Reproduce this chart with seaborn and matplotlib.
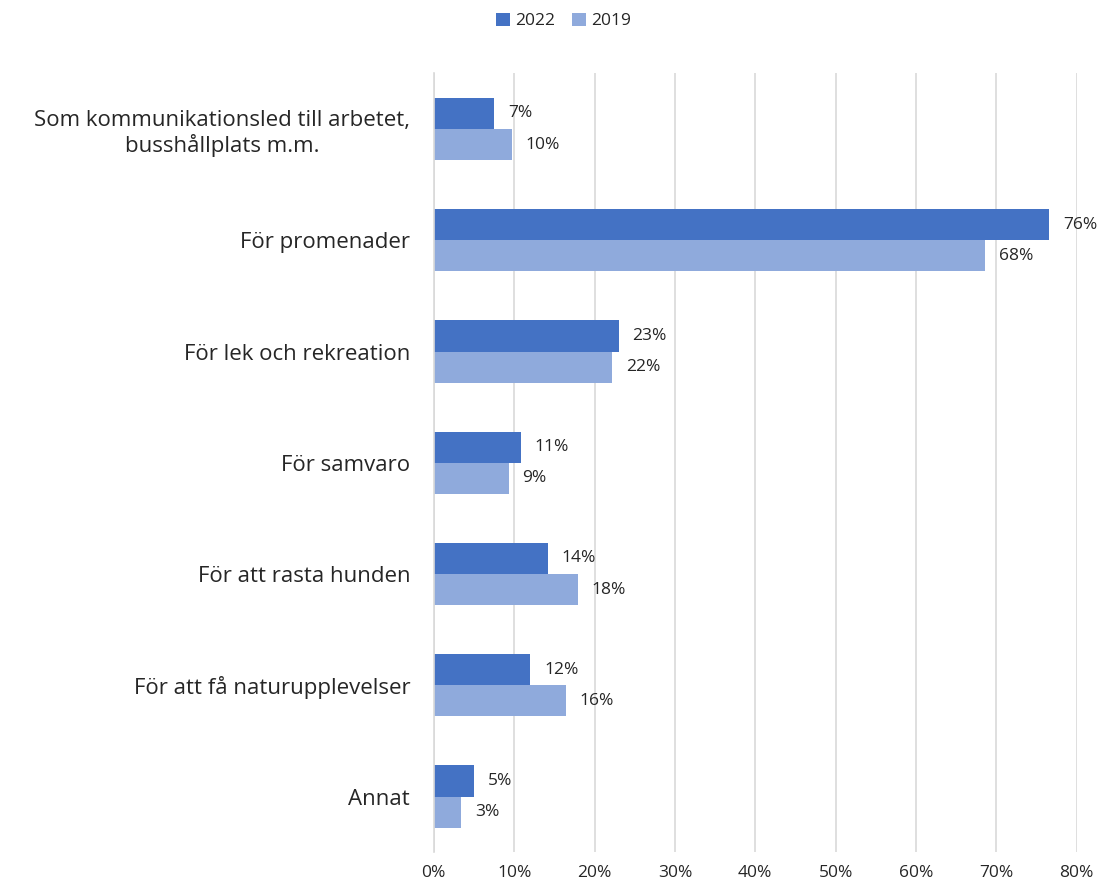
import pandas as pd
import matplotlib.pyplot as plt
import seaborn as sns
from matplotlib.ticker import FixedLocator, PercentFormatter

categories = ["Som kommunikationsled till arbetet,\nbusshållplats m.m.",
              "För promenader",
              "För lek och rekreation",
              "För samvaro",
              "För att rasta hunden",
              "För att få naturupplevelser",
              "Annat"]
years = ["2022", "2019"]
values_2022 = [7.5, 76.6, 23.0, 10.8, 14.2, 12.0, 5.0]
values_2019 = [9.7, 68.6, 22.2, 9.3, 17.9, 16.4, 3.4]
labels_2022 = ["7%", "76%", "23%", "11%", "14%", "12%", "5%"]
labels_2019 = ["10%", "68%", "22%", "9%", "18%", "16%", "3%"]
colors = ["#4472C4", "#8FAADC"]

df = pd.DataFrame({
    "kategori": categories * 2,
    "andel": values_2022 + values_2019,
    "år": [years[0]] * len(categories) + [years[1]] * len(categories),
})

sns.set_style("white")
plt.rcParams["font.family"] = ["Open Sans", "DejaVu Sans"]

fig = plt.figure(figsize=(11.01, 8.84), dpi=100)
ax = fig.add_axes([0.394, 0.036, 0.584, 0.881])

sns.barplot(data=df, y="kategori", x="andel", hue="år", orient="h",
            palette=colors, width=0.56, gap=0, saturation=1,
            edgecolor="none", ax=ax, legend=True)

# data labels
for cont, labs in zip(ax.containers, [labels_2022, labels_2019]):
    ax.bar_label(cont, labels=labs, padding=10, fontsize=12.5, color="#262626")

ax.set_xlim(0, 80)
ax.set_ylim(len(categories) - 0.5, -0.5)
ax.xaxis.set_major_locator(FixedLocator(range(0, 81, 10)))
ax.xaxis.set_major_formatter(PercentFormatter(decimals=0))
ax.tick_params(axis="x", length=0, labelsize=12.5, labelcolor="#262626", pad=9)
ax.grid(axis="x", color="#D9D9D9", linewidth=1.2)
ax.set_axisbelow(True)

ax.set_yticks(range(len(categories)))
ax.set_yticklabels(categories, multialignment="center")
ax.tick_params(axis="y", which="major", length=0, labelsize=16, labelcolor="#262626", pad=17)
ax.yaxis.set_minor_locator(FixedLocator([i - 0.5 for i in range(len(categories) + 1)]))
ax.tick_params(axis="y", which="minor", length=6, color="#D9D9D9", width=1.2)

ax.set_xlabel("")
ax.set_ylabel("")
for s in ["top", "right", "bottom"]:
    ax.spines[s].set_visible(False)
ax.spines["left"].set_color("#D9D9D9")
ax.spines["left"].set_linewidth(1.2)

ax.legend(loc="upper center", bbox_to_anchor=(0.5 / 0.584 - 0.394 / 0.584 + 0.02, 1.098),
          ncol=2, frameon=False, fontsize=12.5, handlelength=0.8, handleheight=0.8,
          handletextpad=0.3, columnspacing=1.0)

fig.savefig("out.png", dpi=100)
